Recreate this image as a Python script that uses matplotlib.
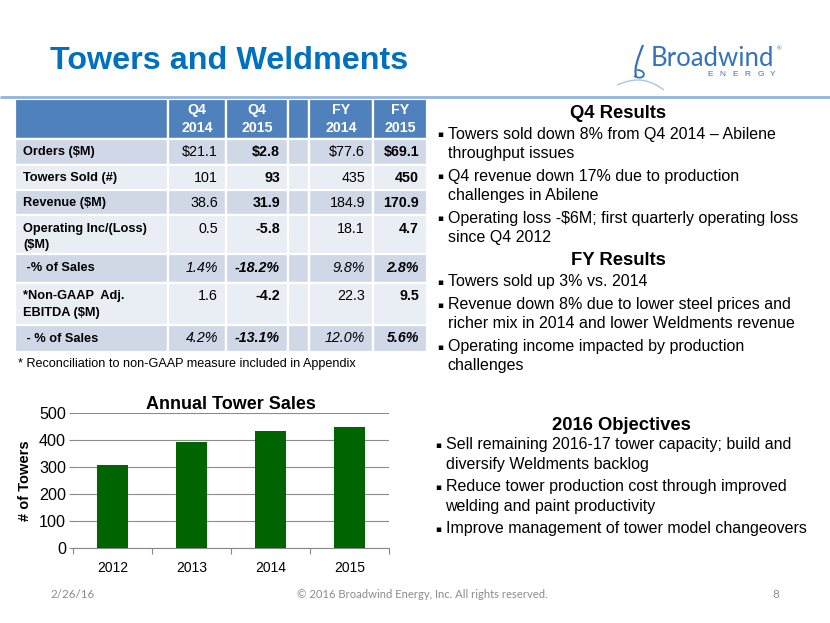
import matplotlib
matplotlib.use('Agg')
import matplotlib.pyplot as plt
from matplotlib.patches import Rectangle, PathPatch
from matplotlib.path import Path

# ---------------- data ----------------
title = "Towers and Weldments"
col_headers = ["Q4\n2014", "Q4\n2015", "", "FY\n2014", "FY\n2015"]
row_labels = ["Orders ($M)", "Towers Sold (#)", "Revenue ($M)",
              "Operating Inc/(Loss)\n($M)", " -% of Sales",
              "*Non-GAAP  Adj.\nEBITDA ($M)", " - % of Sales"]
q4_2014 = ["$21.1", "101", "38.6", "0.5", "1.4%", "1.6", "4.2%"]
q4_2015 = ["$2.8", "93", "31.9", "-5.8", "-18.2%", "-4.2", "-13.1%"]
fy_2014 = ["$77.6", "435", "184.9", "18.1", "9.8%", "22.3", "12.0%"]
fy_2015 = ["$69.1", "450", "170.9", "4.7", "2.8%", "9.5", "5.6%"]
italic_rows = [4, 6]
footnote = "* Reconciliation to non-GAAP measure included in Appendix"

years = ["2012", "2013", "2014", "2015"]
towers = [307, 391, 435, 450]
chart_title = "Annual Tower Sales"
y_label = "# of Towers"

q4_heading = "Q4 Results"
q4_bullets = [["Towers sold down 8% from Q4 2014 \u2013 Abilene", "throughput issues"],
              ["Q4 revenue down 17% due to production", "challenges in Abilene"],
              ["Operating loss -$6M; first quarterly operating loss", "since Q4 2012"]]
fy_heading = "FY Results"
fy_bullets = [["Towers sold up 3% vs. 2014"],
              ["Revenue down 8% due to lower steel prices and",
               "richer mix in 2014 and lower Weldments revenue"],
              ["Operating income impacted by production", "challenges"]]
obj_heading = "2016 Objectives"
obj_bullets = [["Sell remaining 2016-17 tower capacity; build and", "diversify Weldments backlog"],
               ["Reduce tower production cost through improved", "welding and paint productivity"],
               ["Improve management of tower model changeovers"]]

footer_date = "2/26/16"
footer_copy = "\u00a9 2016 Broadwind Energy, Inc. All rights reserved."
footer_page = "8"

# ---------------- figure ----------------
FONT = ['Liberation Sans', 'DejaVu Sans']
plt.rcParams['font.family'] = FONT
fig = plt.figure(figsize=(8.3, 6.23), dpi=100)
fig.patch.set_facecolor('white')

ov = fig.add_axes([0, 0, 1, 1])
ov.set_xlim(0, 830)
ov.set_ylim(623, 0)
ov.axis('off')

# title & rule
ov.text(50, 61, title, fontsize=23.2, fontweight='bold', color='#0070C0', va='center', ha='left')
ov.plot([0, 830], [96.5, 96.5], color='#8EB4E3', lw=2, solid_capstyle='butt')

# logo
LOGO = '#3572BC'
ov.text(651, 58, "Broadwind", fontsize=18.5, family=['Lato', 'DejaVu Sans'], fontweight='normal',
        color=LOGO, va='center', ha='left')
ov.text(777, 49, "\u00ae", fontsize=4.5, color=LOGO, va='center', ha='left')
for i, ch in enumerate("ENERGY"):
    ov.text(710 + i * 12.6, 75, ch, fontsize=6, color=LOGO, va='center', ha='center')
sw1 = Path([(643, 45), (638, 58), (634, 68), (636, 76)],
           [Path.MOVETO, Path.CURVE4, Path.CURVE4, Path.CURVE4])
ov.add_patch(PathPatch(sw1, fill=False, color=LOGO, lw=1.6))
sw2 = Path([(634, 76), (645, 82), (648, 70), (637, 70)],
           [Path.MOVETO, Path.CURVE4, Path.CURVE4, Path.CURVE4])
ov.add_patch(PathPatch(sw2, fill=False, color=LOGO, lw=1.3))
sw3 = Path([(617, 85), (632, 79), (645, 76), (664, 90)],
           [Path.MOVETO, Path.CURVE4, Path.CURVE4, Path.CURVE4])
ov.add_patch(PathPatch(sw3, fill=False, color='#A9C6E8', lw=1.0))

# ---------------- table ----------------
col_edges = [15, 168, 226, 288, 309, 373, 427]
row_edges = [98.5, 139.3, 165.3, 190, 215.3, 254, 282.7, 325.3, 351.7]
header_color = '#4F81BD'
band_colors = ['#D0D8E8', '#E9EDF4']
cols_values = [q4_2014, q4_2015, None, fy_2014, fy_2015]
bold_cols = [1, 4]

for c in range(len(col_edges) - 1):
    x0, x1 = col_edges[c], col_edges[c + 1]
    ov.add_patch(Rectangle((x0, row_edges[0]), x1 - x0, row_edges[1] - row_edges[0],
                           facecolor=header_color, edgecolor='white', lw=1.6))
    if c > 0 and col_headers[c - 1]:
        ov.text((x0 + x1) / 2, (row_edges[0] + row_edges[1]) / 2 + 0.5, col_headers[c - 1],
                ha='center', va='center', fontsize=10.2, fontweight='bold', color='white',
                linespacing=1.35)
    for r in range(len(row_labels)):
        y0, y1 = row_edges[r + 1], row_edges[r + 2]
        ov.add_patch(Rectangle((x0, y0), x1 - x0, y1 - y0, facecolor=band_colors[r % 2],
                               edgecolor='white', lw=1.6))

for r, lab in enumerate(row_labels):
    y0, y1 = row_edges[r + 1], row_edges[r + 2]
    lines = lab.split("\n")
    if len(lines) == 1:
        ys = [(y0 + y1) / 2]
    else:
        ys = [y0 + 13.5 + i * 16.5 for i in range(len(lines))]
    for ln, yy in zip(lines, ys):
        ov.text(23, yy, ln, ha='left', va='center', fontsize=9.2, fontweight='bold', color='black')
    for ci, vals in enumerate(cols_values):
        if vals is None:
            continue
        xr = col_edges[ci + 2] - 8
        ov.text(xr, ys[0], vals[r], ha='right', va='center', fontsize=10.3,
                fontweight='bold' if ci in bold_cols else 'normal',
                fontstyle='italic' if r in italic_rows else 'normal',
                color='black')

ov.text(18, 364, footnote, ha='left', va='center', fontsize=9.1, color='black')

# ---------------- right text ----------------
def section(heading, hx, hy, bullets, bx, tx, first_gap=21, wrap=19.2, gap=22.8):
    ov.text(hx, hy, heading, ha='center', va='center', fontsize=13.3, fontweight='bold', color='black')
    y = hy + first_gap
    for b in bullets:
        ov.text(bx, y + 0.5, "\u25aa", ha='left', va='center', fontsize=6.5, family=['DejaVu Sans'], color='black')
        for i, ln in enumerate(b):
            ov.text(tx, y, ln, ha='left', va='center', fontsize=11.5, color='black')
            if i < len(b) - 1:
                y += wrap
        y += gap
    return y

section(q4_heading, 618, 113.3, q4_bullets, 437, 447.5)
section(fy_heading, 618, 260.7, fy_bullets, 437, 447.5)
section(obj_heading, 621.5, 425, obj_bullets, 435, 445.5, first_gap=20)

# ---------------- footer ----------------
FOOT = ['Lato', 'DejaVu Sans']
ov.text(50, 594, footer_date, ha='left', va='center', fontsize=8.4, color='#8C8C8C', family=FOOT)
ov.text(422, 594, footer_copy, ha='center', va='center', fontsize=8.1, color='#8C8C8C', family=FOOT)
ov.text(776, 594, footer_page, ha='center', va='center', fontsize=8.4, color='#8C8C8C', family=FOOT)

# ---------------- bar chart ----------------
ax = fig.add_axes([73 / 830, 1 - 548 / 623, (389 - 73) / 830, (548 - 413) / 623])
ax.set_facecolor('none')
xs = list(range(len(years)))
ax.bar(xs, towers, width=0.4, color='#006400', zorder=3)
ax.set_xlim(-0.5, len(years) - 0.5)
ax.set_ylim(0, 500)
ax.set_yticks([0, 100, 200, 300, 400, 500])
ax.set_xticks(xs)
ax.set_xticklabels(years)
ax.set_xticks([x - 0.5 for x in range(len(years) + 1)], minor=True)
ax.tick_params(axis='x', which='major', length=0, labelsize=10, pad=9)
ax.tick_params(axis='x', which='minor', length=4, color='#888888', width=0.8)
ax.tick_params(axis='y', length=3, color='#888888', labelsize=11.6, pad=2)
ax.yaxis.grid(True, color='#8C8C8C', lw=0.8, zorder=0)
ax.set_axisbelow(True)
for s in ['top', 'right', 'left']:
    ax.spines[s].set_visible(False)
ax.spines['bottom'].set_color('#888888')
ax.spines['bottom'].set_linewidth(0.8)
ax.set_title(chart_title, fontsize=13, fontweight='bold', pad=3)
ax.set_ylabel(y_label, fontsize=10.5, fontweight='bold', labelpad=5)

fig.savefig('out.png', dpi=100, facecolor='white')
